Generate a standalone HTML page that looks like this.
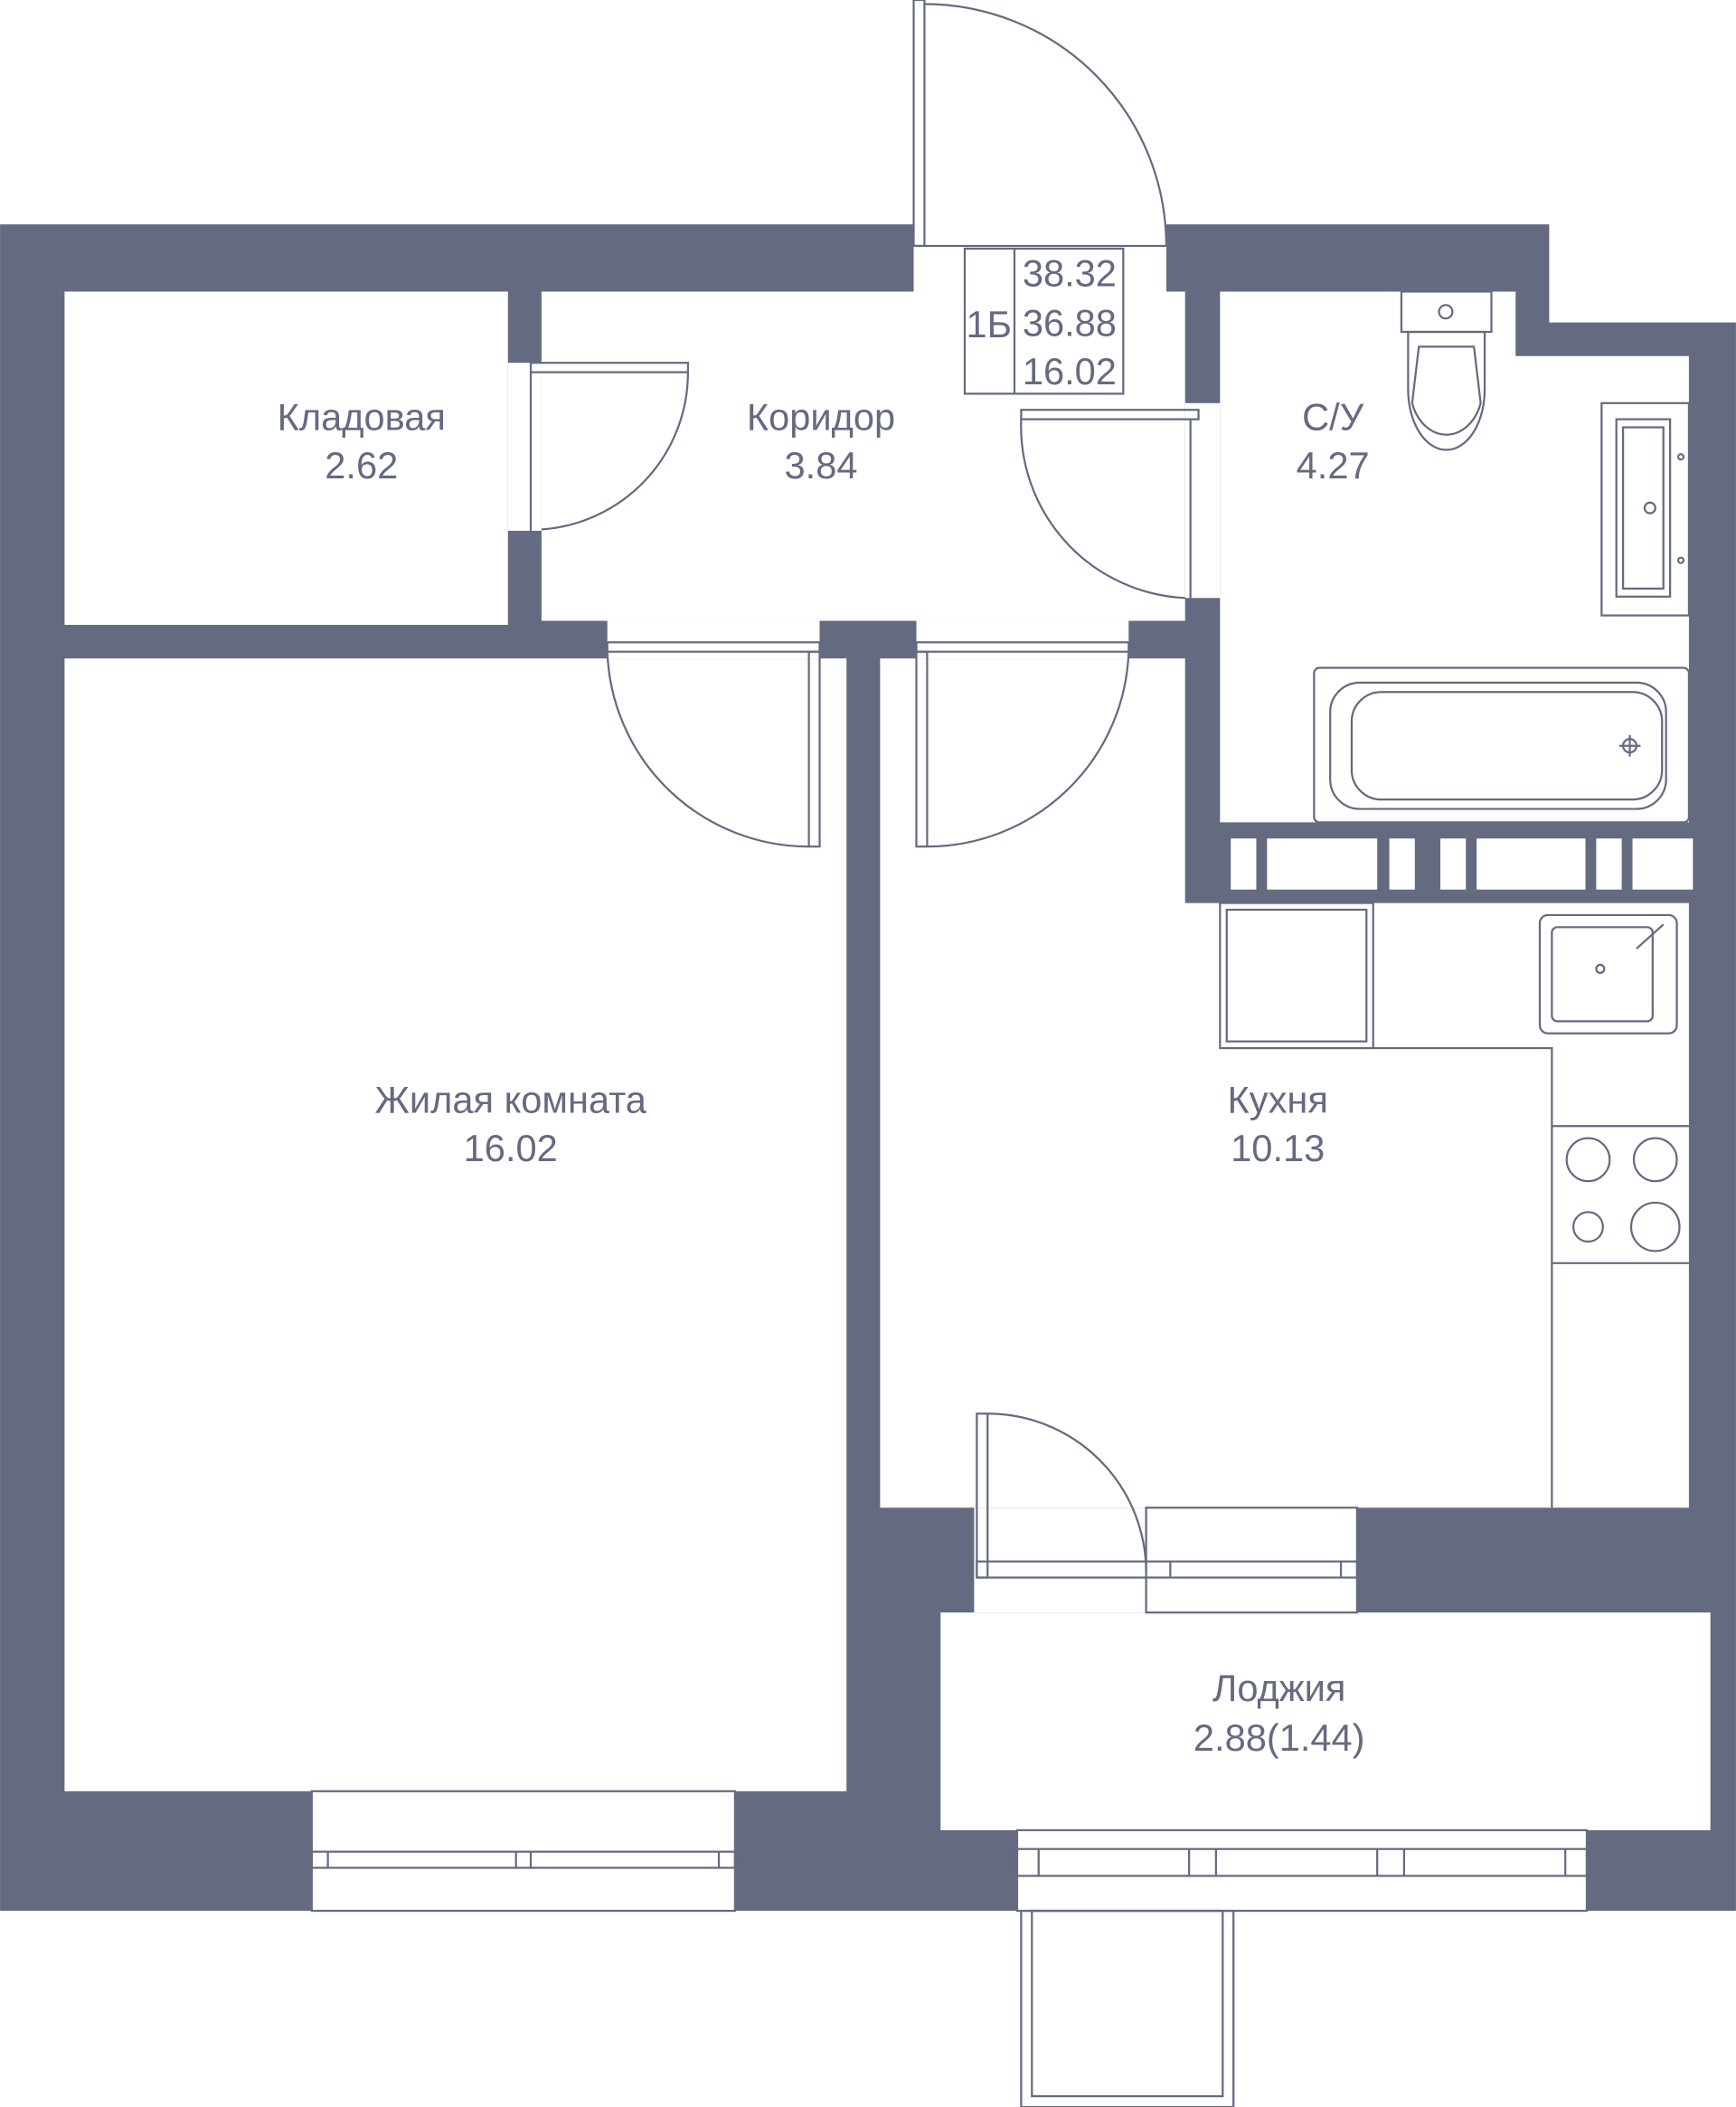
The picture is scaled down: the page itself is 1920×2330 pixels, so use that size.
<!DOCTYPE html>
<html><head><meta charset="utf-8"><style>
html,body{margin:0;padding:0;background:#fff;width:1920px;height:2330px;overflow:hidden}
svg{display:block}
text{font-family:"Liberation Sans",sans-serif;fill:#646a80;font-size:28px;text-anchor:middle}
</style></head><body>
<svg width="1920" height="2330" viewBox="0 0 1292 1568" xmlns="http://www.w3.org/2000/svg">
<g fill="#646a80">
<polygon points="0,167 680,167 680,217 868,217 868,167 1153,167 1153,240 1292,240 1292,1422 1181,1422 1181,1362 757,1362 757,1422 547,1422 547,1333 232,1333 232,1422 0,1422"/>
</g>
<g fill="#fff">
<rect x="48" y="217" width="330" height="248"/>
<rect x="403" y="217" width="479" height="245"/>
<rect x="680" y="160" width="188" height="60"/>
<polygon points="908,217 1128,217 1128,265 1257,265 1257,612 908,612"/>
<rect x="48" y="490" width="582" height="843"/>
<polygon points="655,490 882,490 882,672 1257,672 1257,1122 655,1122"/>
<rect x="700" y="1200" width="573" height="162"/>
<rect x="378" y="270" width="25" height="125"/>
<rect x="882" y="300" width="26" height="145"/>
<rect x="452" y="462" width="158" height="28"/>
<rect x="682" y="462" width="158" height="28"/>
<rect x="725" y="1122" width="128" height="78"/>
<rect x="853" y="1122" width="157" height="78"/>
<rect x="916" y="624" width="19" height="38"/>
<rect x="943" y="624" width="82" height="38"/>
<rect x="1034" y="624" width="19" height="38"/>
<rect x="1072" y="624" width="19" height="38"/>
<rect x="1099" y="624" width="81" height="38"/>
<rect x="1188" y="624" width="19" height="38"/>
<rect x="1215" y="624" width="45" height="38"/>
</g>
<g fill="none" stroke="#646a80" stroke-width="1.5">
<rect x="680" y="0" width="8" height="183"/>
<path d="M688,3 A180,180 0 0 1 868,183"/>
<line x1="680" y1="183" x2="868" y2="183"/>
<rect x="718" y="185" width="118" height="108"/>
<line x1="755" y1="185" x2="755" y2="293"/>
<rect x="395" y="270" width="117" height="7"/>
<path d="M512,277 A117,117 0 0 1 403,394"/>
<line x1="395" y1="277" x2="395" y2="395"/>
<rect x="760" y="305" width="132" height="7"/>
<path d="M760,312 A128,128 0 0 0 882,445"/>
<line x1="886" y1="312" x2="886" y2="445"/>
<rect x="452" y="478" width="158" height="7"/>
<rect x="602" y="485" width="8" height="145"/>
<path d="M452,485 A150,150 0 0 0 602,630"/>
<rect x="682" y="478" width="158" height="7"/>
<rect x="682" y="485" width="8" height="145"/>
<path d="M840,485 A150,150 0 0 1 690,630"/>
<rect x="1043" y="217" width="67" height="30"/>
<circle cx="1076" cy="232" r="5"/>
<path d="M1048,247 L1105,247 L1105,290 A28,44 0 0 1 1048,290 Z"/>
<path d="M1056,258 L1097,258 L1102,300 A27,35 0 0 1 1051,300 Z"/>
<rect x="1192" y="300" width="65" height="158"/>
<rect x="1203" y="312" width="40" height="132"/>
<rect x="1208" y="318" width="30" height="120"/>
<circle cx="1228" cy="378" r="4"/>
<circle cx="1251" cy="340" r="2"/>
<circle cx="1251" cy="417" r="2"/>
<rect x="978" y="497" width="279" height="115" rx="4"/>
<rect x="990" y="508" width="250" height="94" rx="22"/>
<rect x="1006" y="515" width="231" height="80" rx="22"/>
<circle cx="1213" cy="555" r="5"/>
<line x1="1205" y1="555" x2="1221" y2="555"/>
<line x1="1213" y1="547" x2="1213" y2="563"/>
<rect x="908" y="672" width="114" height="108"/>
<rect x="913" y="677" width="104" height="98"/>
<polyline points="1022,780 1155,780 1155,1122"/>
<rect x="1146" y="681" width="102" height="88" rx="6"/>
<rect x="1155" y="690" width="75" height="70" rx="4"/>
<circle cx="1191" cy="721" r="3"/>
<line x1="1218" y1="706" x2="1238" y2="688"/>
<line x1="1155" y1="838" x2="1257" y2="838"/>
<line x1="1155" y1="940" x2="1257" y2="940"/>
<circle cx="1182" cy="863" r="16"/>
<circle cx="1232" cy="863" r="16"/>
<circle cx="1182" cy="913" r="11"/>
<circle cx="1232" cy="913" r="18"/>
<rect x="727" y="1052" width="8" height="122"/>
<path d="M735,1052 A118,118 0 0 1 853,1170"/>
<rect x="727" y="1162" width="283" height="12"/>
<rect x="853" y="1122" width="157" height="78"/>
<line x1="871" y1="1162" x2="871" y2="1174"/>
<line x1="998" y1="1162" x2="998" y2="1174"/>
<rect x="232" y="1333" width="315" height="89"/>
<rect x="232" y="1378" width="315" height="12"/>
<line x1="244" y1="1378" x2="244" y2="1390"/>
<line x1="384" y1="1378" x2="384" y2="1390"/>
<line x1="395" y1="1378" x2="395" y2="1390"/>
<line x1="535" y1="1378" x2="535" y2="1390"/>
<rect x="757" y="1362" width="424" height="60"/>
<rect x="757" y="1376" width="424" height="20"/>
<line x1="773" y1="1376" x2="773" y2="1396"/>
<line x1="885" y1="1376" x2="885" y2="1396"/>
<line x1="905" y1="1376" x2="905" y2="1396"/>
<line x1="1025" y1="1376" x2="1025" y2="1396"/>
<line x1="1045" y1="1376" x2="1045" y2="1396"/>
<line x1="1165" y1="1376" x2="1165" y2="1396"/>
<rect x="760" y="1422" width="158" height="146"/>
<rect x="768" y="1422" width="142" height="138"/>
</g>
<text x="269" y="320">Кладовая</text>
<text x="269" y="356">2.62</text>
<text x="611" y="320">Коридор</text>
<text x="611" y="356">3.84</text>
<text x="992" y="320">С/У</text>
<text x="992" y="356">4.27</text>
<text x="380" y="828">Жилая комната</text>
<text x="380" y="864">16.02</text>
<text x="951" y="828">Кухня</text>
<text x="951" y="864">10.13</text>
<text x="952" y="1266">Лоджия</text>
<text x="952" y="1303">2.88(1.44)</text>
<text x="736" y="251">1Б</text>
<text x="796" y="213">38.32</text>
<text x="796" y="250">36.88</text>
<text x="796" y="286">16.02</text>
</svg>
</body></html>
